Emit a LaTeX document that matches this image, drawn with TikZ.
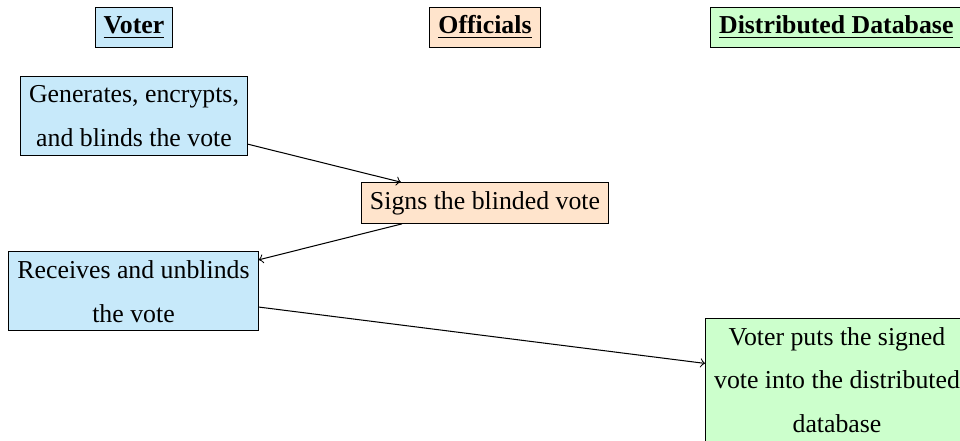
\documentclass[tikz,border=0pt]{standalone}
\usepackage{fontspec}
\setmainfont{Liberation Serif}
\definecolor{voterfill}{RGB}{199,233,250}
\definecolor{officialfill}{RGB}{255,228,204}
\definecolor{dbfill}{RGB}{204,255,204}
\begin{document}
\begin{tikzpicture}[x=0.3876pt,y=-0.3876pt,
  box/.style={draw=black, align=center, inner sep=0.3333em,
    font=\fontsize{10}{17}\selectfont},
  header/.style={box},
  voterbox/.style={box, fill=voterfill},
  officialbox/.style={box, fill=officialfill},
  dbbox/.style={box, fill=dbfill},
  flow/.style={->, black}]
\useasboundingbox (0,0) rectangle (960,441);

% column headers
\node[header, fill=voterfill] (hv) at (134,27.5) {\underline{\textbf{Voter}}};
\node[header, fill=officialfill] (ho) at (485,27.5) {\underline{\textbf{Officials}}};
\node[header, fill=dbfill, anchor=west] (hd) at (710,27.5) {\underline{\textbf{Distributed Database}}};

% steps
\node[voterbox] (gen) at (134,116) {Generates, encrypts,\\and blinds the vote};
\node[officialbox] (sign) at (485,203) {Signs the blinded vote};
\node[voterbox] (recv) at (133.5,291.3) {Receives and unblinds\\the vote};
\node[dbbox, anchor=north west] (put) at (705,318) {Voter puts the signed\\vote into the distributed\\database};

% message flow
\draw[flow] (gen) -- (sign);
\draw[flow] (sign) -- (recv);
\draw[flow] (recv) -- (put);
\end{tikzpicture}
\end{document}
